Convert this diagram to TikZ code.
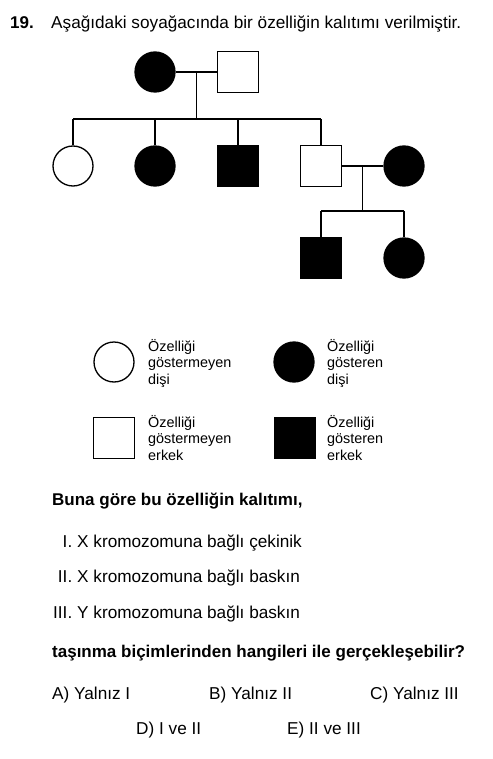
\documentclass[tikz,border=0pt]{standalone}
\usepackage{fontspec}
\setmainfont{Liberation Sans}
\begin{document}
\begin{tikzpicture}[x=1pt,y=-1pt,
  fem/.style={draw,circle,line width=1.3pt,minimum size=40pt,inner sep=0pt},
  mal/.style={draw,rectangle,line width=1.3pt,minimum size=41pt,inner sep=0pt},
  aff/.style={fill=black},
  link/.style={line width=1.3pt},
  txt/.style={anchor=base west,inner sep=0pt,font=\fontsize{17.2}{20}\selectfont},
  bold/.style={txt,font=\bfseries\fontsize{17}{20}\selectfont},
  key/.style={anchor=west,inner sep=0pt,align=left,font=\fontsize{14.4}{16.5}\selectfont}]
  \useasboundingbox (0,0) rectangle (492,759);

  \node[bold] (num) at (10,29) {19.};
  \node[txt] (title) at (51,29) {Aşağıdaki soyağacında bir özelliğin kalıtımı verilmiştir.};

  % parents
  \node[fem,aff] (mom) at (155,72) {};
  \node[mal] (dad) at (238,72) {};
  \draw[link] (mom.east) -- coordinate (u1) (dad.west);
  \coordinate (s1) at (196,119);

  % children
  \node[fem] (c1) at (73,166) {};
  \node[fem,aff] (c2) at (155,166) {};
  \node[mal,aff] (c3) at (238,166) {};
  \node[mal] (c4) at (321,166) {};
  \node[fem,aff] (w4) at (404,166) {};
  \draw[link] (u1) -- (u1 |- s1);
  \draw[link] (c1 |- s1) -- (c4 |- s1);
  \foreach \c in {c1,c2,c3,c4}
    \draw[link] (\c |- s1) -- (\c.north);

  % grandchildren
  \draw[link] (c4.east) -- coordinate (u2) (w4.west);
  \coordinate (s2) at (362,211);
  \node[mal,aff] (g1) at (321,258) {};
  \node[fem,aff] (g2) at (404,258) {};
  \draw[link] (u2) -- (u2 |- s2);
  \draw[link] (g1 |- s2) -- (g2 |- s2);
  \foreach \c in {g1,g2}
    \draw[link] (\c |- s2) -- (\c.north);

  % legend
  \node[fem] (k1) at (114,362) {};
  \node[key] (k1t) at (148,363) {Özelliği\\göstermeyen\\dişi};
  \node[fem,aff] (k2) at (294,362) {};
  \node[key] (k2t) at (327,363) {Özelliği\\gösteren\\dişi};
  \node[mal] (k3) at (114,438) {};
  \node[key] (k3t) at (148,438) {Özelliği\\göstermeyen\\erkek};
  \node[mal,aff] (k4) at (295,438) {};
  \node[key] (k4t) at (327,438) {Özelliği\\gösteren\\erkek};

  % question
  \node[bold] (q1) at (52,505) {Buna göre bu özelliğin kalıtımı,};
  \foreach \y/\nm/\r/\t in {547/i1/I./X kromozomuna bağlı çekinik,
                            582/i2/II./X kromozomuna bağlı baskın,
                            618/i3/III./Y kromozomuna bağlı baskın} {
    \node[txt,anchor=base east] (\nm n) at (72.5,\y) {\r};
    \node[txt] (\nm) at (77,\y) {\t};
  }
  \node[bold] (q2) at (52,657) {taşınma biçimlerinden hangileri ile gerçekleşebilir?};

  % choices
  \foreach \x/\y/\nm/\t in {52/699/oA/{A) Yalnız I}, 209/699/oB/{B) Yalnız II},
                            370/699/oC/{C) Yalnız III}, 136/734/oD/{D) I ve II},
                            287/734/oE/{E) II ve III}}
    \node[txt] (\nm) at (\x,\y) {\t};
\end{tikzpicture}
\end{document}
